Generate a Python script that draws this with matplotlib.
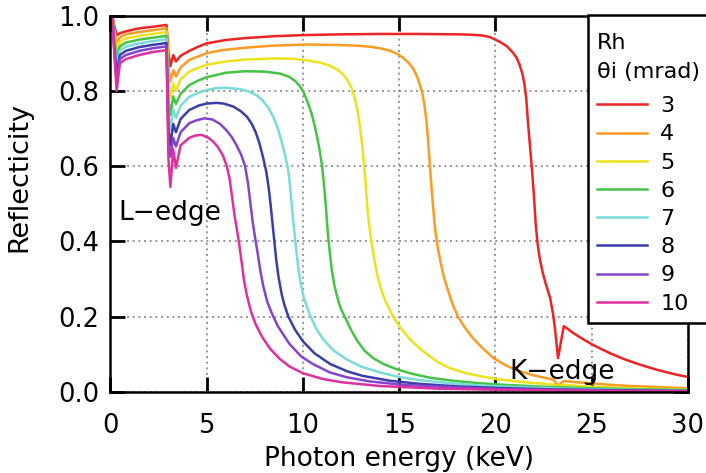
import matplotlib
matplotlib.use("Agg")
import matplotlib.pyplot as plt
from matplotlib.offsetbox import VPacker, DrawingArea

plt.rcParams['font.family'] = ['DejaVu Sans']

# Incidence angles (mrad) and line colours
angles = [3, 4, 5, 6, 7, 8, 9, 10]
colors = ["#ee2424", "#ff9a22", "#ece21e", "#44c444", "#78dcd8", "#3a3eaa", "#8444cc", "#e0309f"]

# Energy grid shared by the low-energy part (through the Rh L-edges)
e_low = [0.03, 0.1, 0.2, 0.33, 0.5, 0.8, 1.5, 2.2, 2.92, 3.02, 3.12, 3.27, 3.41, 3.65, 4.1]

# 3 mrad
e3 = e_low + [4.6, 5.0, 6.0, 7.0, 8.5, 10.0, 12.0, 14.0, 16.0, 18.0, 18.8, 19.3, 19.7, 20.0, 20.3, 20.6,
              20.9, 21.1, 21.25, 21.4, 21.5, 21.6, 21.7, 21.8, 21.9, 22.0, 22.1, 22.2, 22.3, 22.45,
              22.6, 22.84, 23.0, 23.1, 23.25, 23.55, 23.8, 24.0, 24.5, 25.0, 25.5, 26.0, 26.6, 27.2,
              27.8, 28.4, 29.0, 29.5, 30.0]
r3 = [0.985, 1.0, 0.975, 0.948, 0.953, 0.958, 0.966, 0.970, 0.975, 0.90, 0.865, 0.895, 0.878, 0.893, 0.906,
      0.918, 0.926, 0.935, 0.940, 0.945, 0.948, 0.950, 0.951, 0.951, 0.950, 0.949, 0.947, 0.943, 0.936,
      0.928, 0.918, 0.902, 0.888, 0.870, 0.845, 0.82, 0.78, 0.71, 0.65, 0.59, 0.52, 0.44, 0.39, 0.355,
      0.318, 0.29, 0.25, 0.205, 0.165, 0.09, 0.175, 0.166, 0.158, 0.142, 0.127, 0.114, 0.102, 0.089,
      0.078, 0.068, 0.059, 0.051, 0.045, 0.040]

# 4 mrad
e4 = e_low + [4.6, 5.0, 5.8, 6.7, 7.6, 8.5, 10.2, 11.5, 12.8, 13.5, 14.0, 14.5, 14.9, 15.2, 15.5, 15.75,
              15.95, 16.1, 16.22, 16.32, 16.42, 16.5, 16.6, 16.7, 16.8, 16.9, 17.0, 17.15, 17.35, 17.6,
              17.8, 18.06, 18.4, 18.8, 19.3, 19.9, 20.5, 21.1, 22.0, 23.0, 23.25, 23.55, 24.0, 25.0,
              26.0, 27.0, 28.0, 29.0, 30.0]
r4 = [0.985, 1.0, 0.965, 0.928, 0.942, 0.950, 0.956, 0.961, 0.966, 0.86, 0.825, 0.855, 0.838, 0.862, 0.882,
      0.892, 0.90, 0.908, 0.913, 0.917, 0.920, 0.923, 0.922, 0.92, 0.917, 0.913, 0.907, 0.898, 0.888,
      0.874, 0.857, 0.835, 0.812, 0.79, 0.76, 0.72, 0.67, 0.60, 0.53, 0.47, 0.42, 0.385, 0.345, 0.30,
      0.26, 0.23, 0.20, 0.172, 0.145, 0.118, 0.090, 0.072, 0.058, 0.044, 0.033, 0.017, 0.029, 0.027,
      0.023, 0.019, 0.016, 0.014, 0.012, 0.010]

# 5 mrad
e5 = e_low + [4.6, 5.0, 6.0, 7.0, 8.5, 9.5, 10.2, 10.9, 11.4, 11.8, 12.1, 12.35, 12.55, 12.7, 12.85,
              12.95, 13.05, 13.15, 13.25, 13.35, 13.45, 13.56, 13.7, 13.85, 14.05, 14.3, 14.69, 15.1,
              15.6, 16.2, 17.0, 17.6, 18.4, 19.3, 20.3, 21.5, 23.0, 23.25, 23.5, 25.0, 27.0, 30.0]
r5 = [0.985, 1.0, 0.955, 0.908, 0.930, 0.939, 0.946, 0.951, 0.956, 0.82, 0.78, 0.82, 0.80, 0.83, 0.851,
      0.862, 0.869, 0.878, 0.883, 0.886, 0.885, 0.881, 0.875, 0.867, 0.856, 0.843, 0.826, 0.805, 0.78,
      0.745, 0.71, 0.67, 0.62, 0.56, 0.49, 0.44, 0.40, 0.355, 0.315, 0.275, 0.24, 0.20, 0.168, 0.138,
      0.110, 0.080, 0.064, 0.051, 0.041, 0.033, 0.026, 0.020, 0.016, 0.019, 0.014, 0.010, 0.006]

# 6 mrad
e6 = e_low + [4.6, 5.0, 6.0, 7.0, 8.0, 8.8, 9.3, 9.6, 9.85, 10.05, 10.25, 10.45, 10.6, 10.75, 10.88,
              11.0, 11.1, 11.2, 11.3, 11.4, 11.5, 11.65, 11.85, 12.0, 12.18, 12.5, 12.8, 13.2, 13.65,
              14.2, 14.9, 15.7, 16.6, 17.8, 19.0, 20.5, 22.5, 25.0, 27.5, 30.0]
r6 = [0.985, 1.0, 0.945, 0.888, 0.918, 0.928, 0.936, 0.941, 0.946, 0.78, 0.735, 0.785, 0.765, 0.792, 0.815,
      0.828, 0.836, 0.848, 0.852, 0.851, 0.846, 0.837, 0.826, 0.812, 0.795, 0.77, 0.74, 0.71, 0.675,
      0.64, 0.60, 0.55, 0.49, 0.42, 0.37, 0.325, 0.28, 0.24, 0.218, 0.20, 0.165, 0.138, 0.11, 0.090,
      0.074, 0.060, 0.048, 0.038, 0.030, 0.024, 0.019, 0.014, 0.010, 0.007, 0.005]

# 7 mrad
e7 = e_low + [4.6, 5.0, 5.5, 6.0, 6.7, 7.2, 7.6, 7.9, 8.2, 8.46, 8.7, 8.9, 9.05, 9.24, 9.35, 9.45, 9.55,
              9.65, 9.75, 9.88, 10.05, 10.36, 10.7, 11.05, 11.6, 12.27, 13.0, 14.0, 15.0, 16.0, 17.5,
              19.0, 21.0, 23.5, 26.5, 30.0]
r7 = [0.985, 1.0, 0.935, 0.867, 0.907, 0.917, 0.926, 0.932, 0.937, 0.74, 0.695, 0.75, 0.728, 0.76, 0.784,
      0.795, 0.802, 0.807, 0.808, 0.805, 0.798, 0.788, 0.775, 0.756, 0.731, 0.70, 0.665, 0.635, 0.59,
      0.54, 0.48, 0.43, 0.38, 0.335, 0.29, 0.25, 0.205, 0.168, 0.14, 0.11, 0.087, 0.068, 0.052, 0.040,
      0.032, 0.024, 0.018, 0.013, 0.009, 0.006, 0.004]

# 8 mrad
e8 = e_low + [4.6, 5.0, 5.5, 5.9, 6.4, 6.8, 7.1, 7.35, 7.55, 7.75, 7.95, 8.1, 8.22, 8.32, 8.42, 8.52,
              8.62, 8.74, 8.9, 9.05, 9.25, 9.6, 10.0, 10.6, 11.4, 12.3, 13.1, 14.5, 16.0, 18.0, 20.0,
              23.0, 26.0, 30.0]
r8 = [0.985, 1.0, 0.925, 0.846, 0.895, 0.906, 0.916, 0.922, 0.927, 0.70, 0.655, 0.712, 0.69, 0.725, 0.749,
      0.761, 0.766, 0.768, 0.766, 0.758, 0.745, 0.731, 0.712, 0.69, 0.66, 0.62, 0.585, 0.545, 0.50,
      0.45, 0.40, 0.35, 0.305, 0.26, 0.23, 0.20, 0.165, 0.135, 0.103, 0.075, 0.055, 0.043, 0.030,
      0.022, 0.015, 0.011, 0.007, 0.005, 0.003]

# 9 mrad
e9 = e_low + [4.5, 4.9, 5.3, 5.7, 6.0, 6.3, 6.56, 6.8, 7.0, 7.15, 7.28, 7.4, 7.52, 7.65, 7.8, 7.95, 8.15,
              8.38, 8.7, 9.3, 9.9, 10.5, 11.4, 12.3, 13.5, 15.0, 17.5, 20.0, 25.0, 30.0]
r9 = [0.985, 1.0, 0.915, 0.825, 0.884, 0.895, 0.906, 0.913, 0.918, 0.66, 0.625, 0.675, 0.652, 0.69, 0.714,
      0.722, 0.727, 0.724, 0.712, 0.697, 0.678, 0.655, 0.63, 0.60, 0.555, 0.50, 0.45, 0.41, 0.37, 0.32,
      0.28, 0.24, 0.21, 0.175, 0.128, 0.095, 0.075, 0.052, 0.039, 0.028, 0.020, 0.013, 0.008, 0.004,
      0.002]

# 10 mrad
e10 = e_low + [4.4, 4.75, 5.1, 5.35, 5.6, 5.85, 6.05, 6.2, 6.32, 6.45, 6.58, 6.69, 6.82, 6.95, 7.1, 7.3,
               7.55, 7.9, 8.3, 8.8, 9.3, 10.0, 11.0, 12.0, 14.0, 17.0, 20.0, 25.0, 30.0]
r10 = [0.985, 1.0, 0.905, 0.800, 0.873, 0.884, 0.895, 0.903, 0.908, 0.62, 0.545, 0.645, 0.595, 0.655, 0.675,
       0.681, 0.683, 0.675, 0.665, 0.65, 0.628, 0.60, 0.565, 0.52, 0.47, 0.43, 0.395, 0.345, 0.295,
       0.255, 0.215, 0.18, 0.145, 0.115, 0.088, 0.068, 0.050, 0.035, 0.026, 0.016, 0.009, 0.006, 0.003,
       0.002]

energies = [e3, e4, e5, e6, e7, e8, e9, e10]
reflect = [r3, r4, r5, r6, r7, r8, r9, r10]

fig = plt.figure(figsize=(7.06, 4.73), dpi=100)
ax = fig.add_axes([0.1562, 0.1712, 0.8183, 0.7960])

for ang, col, e, r in zip(angles, colors, energies, reflect):
    ax.plot(e, r, color=col, lw=1.8, label=str(ang), solid_joinstyle='round')

ax.set_xlim(0, 30)
ax.set_ylim(0, 1.0)
ax.set_xticks([0, 5, 10, 15, 20, 25, 30])
ax.set_yticks([0.0, 0.2, 0.4, 0.6, 0.8, 1.0])
ax.set_yticklabels(["0.0", "0.2", "0.4", "0.6", "0.8", "1.0"])
ax.grid(True, color="#888888", linestyle=(0, (1.2, 2.2)), linewidth=1.2)
ax.tick_params(direction='in', length=11, width=2, labelsize=18.5,
               top=True, right=True)
ax.tick_params(axis='x', pad=15)
ax.tick_params(axis='y', pad=8)
for s in ax.spines.values():
    s.set_linewidth(1.8)

ax.set_xlabel("Photon energy (keV)", fontsize=19, labelpad=5)
ax.set_ylabel("Reflecticity", fontsize=19.5)
ax.yaxis.set_label_coords(-0.135, 0.571)

ax.text(0.4, 0.475, "L\u2212edge", fontsize=19, va='center', ha='left')
ax.text(20.7, 0.053, "K\u2212edge", fontsize=19, va='center', ha='left')

leg = ax.legend(title="Rh\n\u03b8i (mrad)", loc='upper left',
                bbox_to_anchor=(588 / 706, 1 - 15 / 473), bbox_transform=fig.transFigure,
                borderaxespad=0, fontsize=16, title_fontsize=16, handlelength=2.25,
                handletextpad=0.6, labelspacing=0.37, fancybox=False, framealpha=1,
                edgecolor='black', alignment='left', borderpad=0.4)
leg.get_frame().set_linewidth(1.8)
leg.get_title().set_linespacing(1.55)

# extra room above the legend title and between title and entries
legend_box = leg._legend_box
title_box = legend_box.get_children()[0]
spaced_title = VPacker(children=[DrawingArea(1, 6.5), title_box], pad=0, sep=0, align='left')
spaced_title.set_figure(fig)
legend_box._children[0] = spaced_title
legend_box.sep = 10.4

fig.savefig("out.png", dpi=100)
